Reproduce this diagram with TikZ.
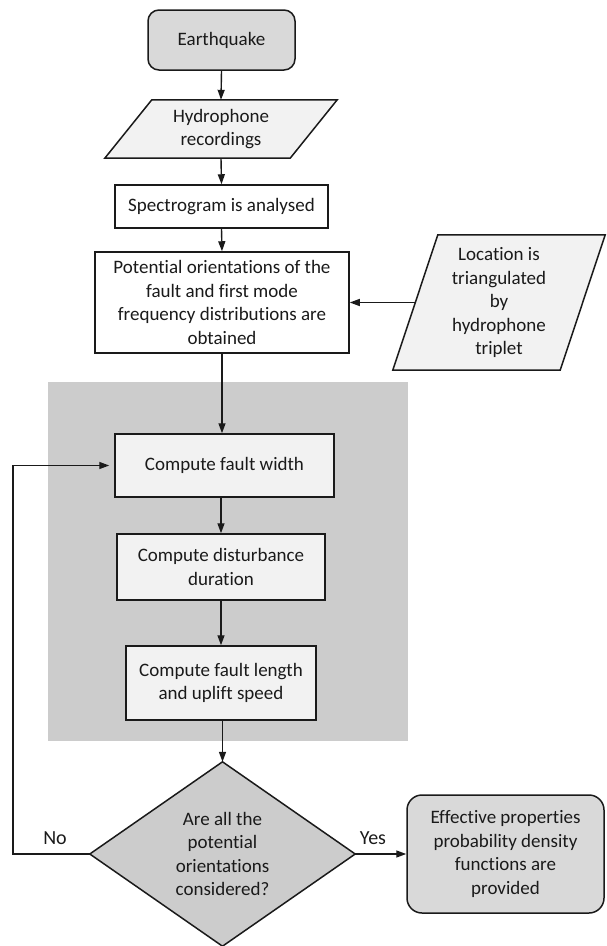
\documentclass[tikz,border=0pt]{standalone}
\usepackage{fontspec}
\setmainfont[Ligatures=NoCommon,RawFeature={-calt}]{Carlito}
\usetikzlibrary{arrows.meta,calc}
\definecolor{bggray}{HTML}{CCCCCC}
\definecolor{midgray}{HTML}{D9D9D9}
\definecolor{lightgray}{HTML}{F2F2F2}
\definecolor{ink}{HTML}{1A1A1A}
\tikzset{
  every node/.style={font=\fontsize{19}{23.5}\selectfont, text=ink, align=center, inner sep=0pt},
  boxw/.style={draw=ink, line width=1.5pt, fill=white},
  boxl/.style={draw=ink, line width=1.5pt, fill=lightgray},
  roundbox/.style={draw=ink, line width=1.5pt, fill=midgray, rounded corners=11pt},
  shapeline/.style={draw=ink, line width=1.5pt},
  conn/.style={draw=ink, line width=1.4pt, -{Triangle[length=10pt,width=7pt]}},
  lbl/.style={font=\fontsize{20}{23}\selectfont}
}
\begin{document}
\begin{tikzpicture}[x=1pt,y=-1pt]
\useasboundingbox (0,0) rectangle (606,946);
% background panel
\fill[bggray] (48,382) rectangle (408,741);

% nodes
\node[roundbox, minimum width=147pt, minimum height=60pt] (eq) at (221.5,40) {Earthquake};

\node[minimum width=185pt, minimum height=58pt] (hyd) at (221,129) {};
\filldraw[shapeline, fill=lightgray] ($(hyd.south west)+(-23.5,0)$) -- ($(hyd.north west)+(23.5,0)$) -- ($(hyd.north east)+(23.5,0)$) -- ($(hyd.south east)+(-23.5,0)$) -- cycle;
\node at (hyd.center) {Hydrophone\\recordings};

\node[boxw, minimum width=213pt, minimum height=43pt] (spec) at (221.5,206.5) {Spectrogram is analysed};

\node[boxw, minimum width=254pt, minimum height=101pt] (pot) at (222,302.5) {Potential orientations of the\\fault and first mode\\frequency distributions are\\obtained};

\node[minimum width=167pt, minimum height=135pt] (loc) at (499,302.5) {};
\filldraw[shapeline, fill=lightgray] ($(loc.south west)+(-22.5,0)$) -- ($(loc.north west)+(22.5,0)$) -- ($(loc.north east)+(22.5,0)$) -- ($(loc.south east)+(-22.5,0)$) -- cycle;
\node at (loc.center) {Location is\\triangulated\\by\\hydrophone\\triplet};

\node[boxl, minimum width=219pt, minimum height=63pt] (fw) at (224.5,465.5) {Compute fault width};
\node[boxl, minimum width=208pt, minimum height=66pt] (dd) at (221,567) {Compute disturbance\\duration};
\node[boxl, minimum width=190pt, minimum height=74pt] (fl) at (221,683) {Compute fault length\\and uplift speed};

\node[minimum width=265pt, minimum height=184pt] (dec) at (222.5,854) {};
\filldraw[shapeline, fill=bggray] (dec.north) -- (dec.east) -- (dec.south) -- (dec.west) -- cycle;
\node at (dec.center) {Are all the\\potential\\orientations\\considered?};

\node[roundbox, rounded corners=15pt, minimum width=197pt, minimum height=118pt] (eff) at (505.5,854) {Effective properties\\probability density\\functions are\\provided};

\node[lbl] (no) at (55,838) {No};
\node[lbl] (yes) at (373,838) {Yes};
\coordinate (loopc) at (13,854);

% connectors
\draw[conn] (eq.south) -- (hyd.north);
\draw[conn] (hyd.south) -- (spec.north);
\draw[conn] (spec.south) -- (pot.north);
\draw[conn] (loc.west) -- (pot.east);
\draw[conn] (pot.south) -- (pot.south |- fw.north);
\draw[conn] (fw.south -| dd.north) -- (dd.north);
\draw[conn] (dd.south) -- (fl.north);
\draw[conn] (fl.south -| dec.north) -- (dec.north);
\draw[conn] (dec.east) -- (eff.west);
\draw[conn] (dec.west) -- (loopc) -- (loopc |- fw.west) -- ([xshift=-5pt]fw.west);
\end{tikzpicture}
\end{document}
